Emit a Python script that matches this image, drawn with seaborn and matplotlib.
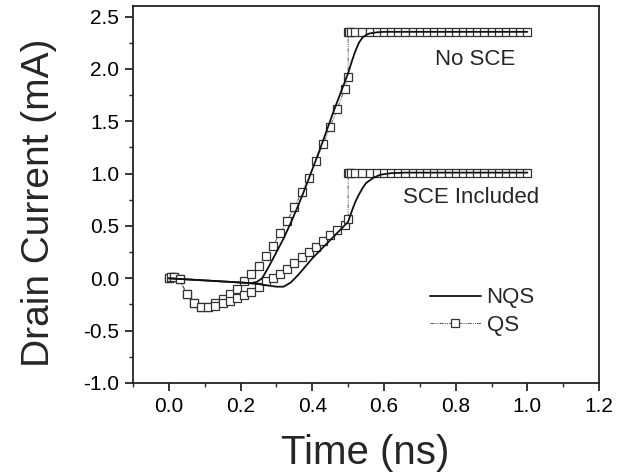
import matplotlib
matplotlib.use("Agg")
import matplotlib.pyplot as plt
from matplotlib.ticker import MultipleLocator
import seaborn as sns
import numpy as np

# ---------------- data ----------------
# NQS (solid lines)
nqs_t_nosce = [0.0, 0.05, 0.10, 0.15, 0.20, 0.23, 0.245, 0.26, 0.28, 0.30, 0.32, 0.34,
               0.36, 0.38, 0.40, 0.42, 0.44, 0.46, 0.48, 0.50, 0.51, 0.52, 0.53, 0.54,
               0.55, 0.56, 0.58, 0.60, 0.65, 1.0]
nqs_i_nosce = [0.0, -0.01, -0.02, -0.03, -0.04, -0.045, -0.035, 0.0, 0.12, 0.25, 0.38, 0.53,
               0.69, 0.86, 1.04, 1.22, 1.41, 1.60, 1.78, 1.96, 2.07, 2.17, 2.25, 2.30,
               2.325, 2.34, 2.35, 2.355, 2.355, 2.355]

nqs_t_sce = [0.0, 0.10, 0.20, 0.25, 0.28, 0.30, 0.32, 0.34, 0.36, 0.38, 0.40, 0.42,
             0.44, 0.46, 0.48, 0.50, 0.51, 0.52, 0.53, 0.54, 0.55, 0.57, 0.59, 0.62,
             0.66, 1.0]
nqs_i_sce = [0.0, -0.02, -0.04, -0.055, -0.07, -0.08, -0.08, -0.04, 0.03, 0.11, 0.19, 0.26,
             0.33, 0.40, 0.47, 0.54, 0.64, 0.73, 0.80, 0.86, 0.91, 0.96, 0.99, 1.005,
             1.01, 1.01]

# QS (squares with dotted line)
qs_t_rise = [0.0, 0.005, 0.013, 0.03, 0.05, 0.07, 0.09, 0.11, 0.13, 0.15, 0.17, 0.19,
             0.21, 0.23, 0.25, 0.27, 0.29, 0.31, 0.33, 0.35, 0.37, 0.39, 0.41, 0.43,
             0.45, 0.47, 0.49, 0.50]
qs_i_nosce_rise = [0.0, 0.01, 0.01, -0.01, -0.15, -0.24, -0.27, -0.27, -0.24, -0.20, -0.15, -0.10,
                   -0.03, 0.04, 0.12, 0.21, 0.31, 0.43, 0.55, 0.68, 0.82, 0.96, 1.12, 1.28,
                   1.45, 1.62, 1.81, 1.92]
qs_i_sce_rise = [0.0, 0.01, 0.01, -0.01, -0.15, -0.24, -0.27, -0.27, -0.26, -0.24, -0.22, -0.19,
                 -0.16, -0.13, -0.08, -0.03, 0.0, 0.04, 0.09, 0.15, 0.20, 0.255, 0.30, 0.36,
                 0.41, 0.46, 0.51, 0.565]
qs_t_flat = [0.50, 0.503, 0.507, 0.52, 0.54, 0.56, 0.58, 0.60, 0.62, 0.64, 0.66, 0.68,
             0.70, 0.72, 0.74, 0.76, 0.78, 0.80, 0.82, 0.84, 0.86, 0.88, 0.90, 0.92,
             0.94, 0.96, 0.98, 1.00]
qs_level_nosce = 2.35
qs_level_sce = 1.01

xticks = [0.0, 0.2, 0.4, 0.6, 0.8, 1.0, 1.2]
yticks = [-1.0, -0.5, 0.0, 0.5, 1.0, 1.5, 2.0, 2.5]

# ---------------- plot ----------------
sns.set_theme(style="ticks")
plt.rcParams['font.family'] = ['Liberation Sans', 'DejaVu Sans']

fig = plt.figure(figsize=(6.26, 4.76), dpi=100)
ax = fig.add_axes([0.2125, 0.1954, 0.957 - 0.2125, 0.987 - 0.1954])

qs_style = dict(color="#555555", linewidth=0.7, linestyle=(0, (4, 1.2, 1, 1.2, 1, 1.2)),
                marker="s", markersize=5.5, markerfacecolor="white",
                markeredgecolor="#333333", markeredgewidth=0.9)

for rise, level, lab in [(qs_i_nosce_rise, qs_level_nosce, "QS"),
                         (qs_i_sce_rise, qs_level_sce, None)]:
    t = qs_t_rise + qs_t_flat
    i = rise + [level] * len(qs_t_flat)
    sns.lineplot(x=t, y=i, estimator=None, sort=False, ax=ax, label=lab, **qs_style)

sns.lineplot(x=nqs_t_nosce, y=nqs_i_nosce, estimator=None, sort=False, ax=ax,
             color="#111111", linewidth=1.3, label="NQS")
sns.lineplot(x=nqs_t_sce, y=nqs_i_sce, estimator=None, sort=False, ax=ax,
             color="#111111", linewidth=1.3)

ax.set_xlim(-0.1, 1.2)
ax.set_ylim(-1.0, 2.6)
ax.set_xticks(xticks)
ax.set_yticks(yticks)
ax.set_xticklabels([f"{v:.1f}" for v in xticks])
ax.set_yticklabels([f"{v:.1f}" for v in yticks])
ax.xaxis.set_minor_locator(MultipleLocator(0.1))
ax.yaxis.set_minor_locator(MultipleLocator(0.25))
ax.tick_params(which="major", direction="out", length=6, width=1.1, labelsize=15,
               colors="black", pad=4, top=False, right=False)
ax.tick_params(which="minor", direction="out", length=3, width=1.0, top=False, right=False)
for s in ax.spines.values():
    s.set_visible(True)
    s.set_linewidth(1.3)
    s.set_color("#222222")

ax.set_xlabel("Time (ns)", fontsize=29)
ax.set_ylabel("Drain Current (mA)", fontsize=28)
ax.xaxis.set_label_coords(0.498, -0.136)
ax.yaxis.set_label_coords(-0.164, 0.477)

ax.text(0.743, 2.09, "No SCE", fontsize=16, va="center", ha="left")
ax.text(0.654, 0.77, "SCE Included", fontsize=16, va="center", ha="left")

h, l = ax.get_legend_handles_labels()
order = [l.index("NQS"), l.index("QS")]
ax.legend([h[k] for k in order], [l[k] for k in order], frameon=False, fontsize=16,
          loc="upper left", bbox_to_anchor=(0.637, 0.254), borderpad=0, borderaxespad=0,
          handlelength=2.3, handletextpad=0.25, labelspacing=0.3)

fig.savefig("out.png", dpi=100)
